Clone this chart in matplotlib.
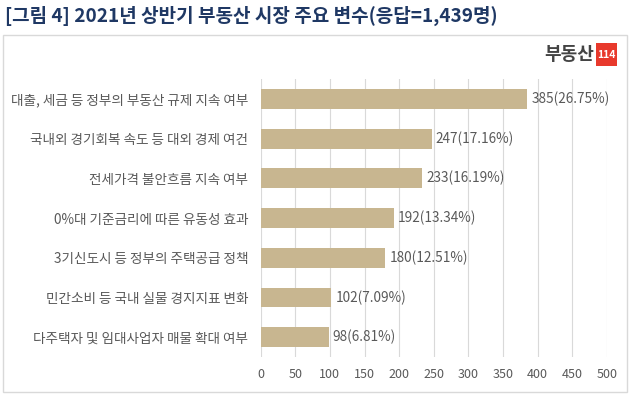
import matplotlib
matplotlib.use("Agg")
import matplotlib.pyplot as plt
from matplotlib.patches import Rectangle

plt.rcParams['font.family'] = ['Noto Sans CJK KR', 'DejaVu Sans']

categories = [
    "대출, 세금 등 정부의 부동산 규제 지속 여부",
    "국내외 경기회복 속도 등 대외 경제 여건",
    "전세가격 불안흐름 지속 여부",
    "0%대 기준금리에 따른 유동성 효과",
    "3기신도시 등 정부의 주택공급 정책",
    "민간소비 등 국내 실물 경지지표 변화",
    "다주택자 및 임대사업자 매물 확대 여부",
]
counts = [385, 247, 233, 192, 180, 102, 98]
shares = [26.75, 17.16, 16.19, 13.34, 12.51, 7.09, 6.81]
xticks = [0, 50, 100, 150, 200, 250, 300, 350, 400, 450, 500]

title = "[그림 4] 2021년 상반기 부동산 시장 주요 변수(응답=1,439명)"

W, H = 632, 398
fig = plt.figure(figsize=(W / 100, H / 100), dpi=100)
fig.patch.set_facecolor("white")

# outer frame
frame = Rectangle((3 / W, 1 - 392 / H), (627 - 3) / W, (392 - 35) / H,
                  transform=fig.transFigure, fill=False,
                  edgecolor="#d9d9d9", linewidth=1.0)
fig.add_artist(frame)

# title
fig.text(5 / W, 1 - 16 / H, title, fontsize=13.7, fontweight="bold",
         color="#1f3864", ha="left", va="center")

# logo
fig.text(594 / W, 1 - 54 / H, "부동산", fontsize=13, fontweight="bold",
         color="#444444", ha="right", va="center")
fig.add_artist(Rectangle((596 / W, 1 - 66 / H), 21 / W, 23 / H,
                         transform=fig.transFigure, facecolor="#e8392c",
                         edgecolor="none"))
fig.text(606.5 / W, 1 - 54.5 / H, "114", fontsize=7.5, fontweight="bold",
         color="white", ha="center", va="center", family="DejaVu Sans Condensed"
         if False else "Noto Sans CJK KR")

ax = fig.add_axes([260.7 / W, 1 - 357 / H, (606.7 - 260.7) / W, (357 - 79) / H])
y = list(range(len(categories)))
ax.barh(y, counts, height=0.5, color="#c8b690", zorder=2)
ax.set_ylim(len(categories) - 0.5, -0.5)
ax.set_xlim(0, 500)
ax.set_xticks(xticks)
ax.set_xticklabels([str(t) for t in xticks], fontsize=9, color="#595959")
ax.set_yticks(y)
ax.set_yticklabels(categories, fontsize=9.8, color="#595959")
ax.tick_params(axis="both", length=0, pad=8)
ax.tick_params(axis="y", pad=9)
ax.xaxis.grid(True, color="#d9d9d9", linewidth=0.8, zorder=0)
ax.set_axisbelow(True)
for s in ax.spines.values():
    s.set_visible(False)

for yi, c, p in zip(y, counts, shares):
    ax.annotate(f"{c}({p:.2f}%)", (c, yi), xytext=(3, 0), textcoords="offset points",
                ha="left", va="center", fontsize=9.8, color="#595959")

fig.savefig("out.png", dpi=100, facecolor="white")
